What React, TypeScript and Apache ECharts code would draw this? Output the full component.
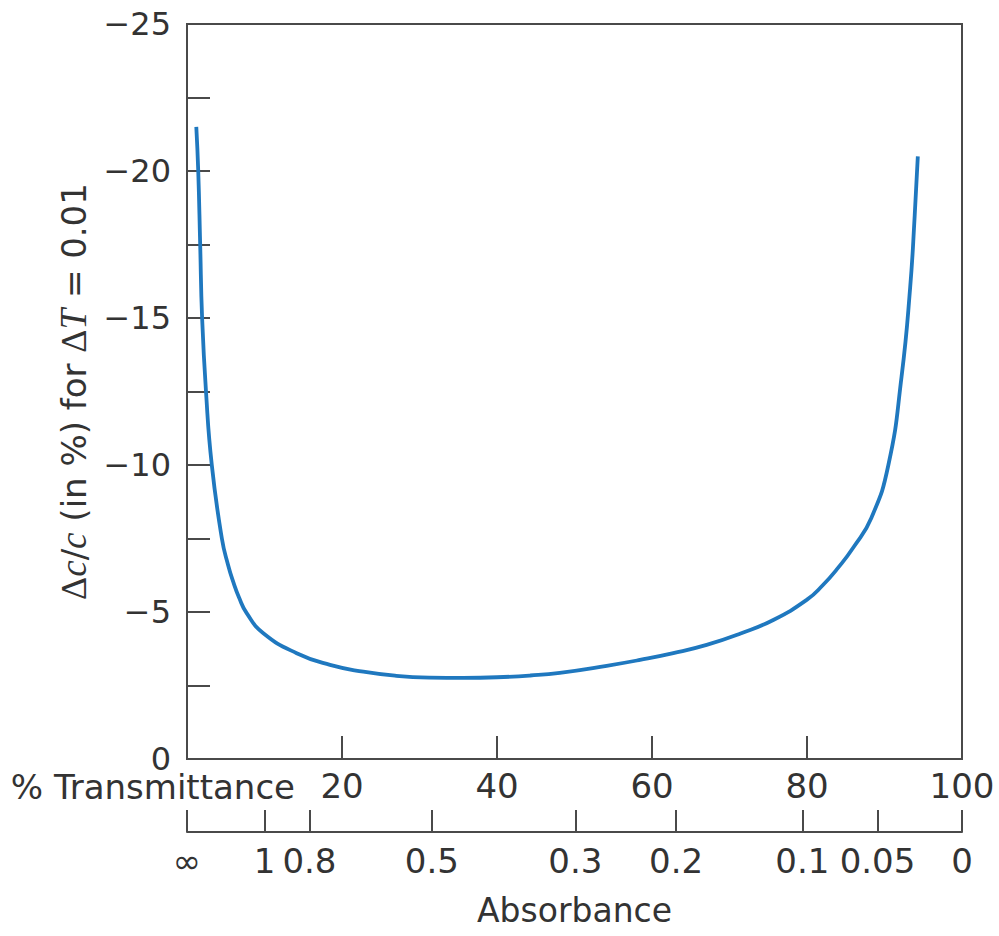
import React, { useEffect, useRef } from "react";
import * as echarts from "echarts";

// % Transmittance (x) and relative concentration error Δc/c in % (y)
const transmittance = [
  1.2, 1.45, 1.7, 1.95, 2.45, 3.2, 4.5, 5.3, 6.0, 6.7, 7.7, 9.85, 14.15, 18.45,
  22.75, 27, 31.35, 35.65, 40, 44.3, 48.1, 54.15, 58.45, 62.75, 67.05, 71.35,
  75.65, 80, 82, 84, 86, 88.3, 90.5, 92.2, 93.3, 93.9, 94.3,
];
const relError = [
  -21.5, -20, -17.5, -15, -12.5, -10, -7.5, -6.6, -6.0, -5.5, -4.96, -4.28, -3.6,
  -3.2, -2.97, -2.83, -2.77, -2.76, -2.78, -2.84, -2.93, -3.17, -3.37, -3.6,
  -3.88, -4.26, -4.73, -5.42, -5.9, -6.5, -7.2, -8.2, -10, -13, -16, -18.5, -20.5,
];

// Secondary (absorbance) scale: tick positions on the % transmittance scale, and their labels
const absorbancePositions = [0, 10, 15.8, 31.6, 50.1, 63.1, 79.4, 89.1, 100];
const absorbanceLabels = ["∞", "1", "0.8", "0.5", "0.3", "0.2", "0.1", "0.05", "0"];

const AXIS_COLOR = "#4a4a4a";
const TEXT_COLOR = "#333333";
const FONT = "DejaVu Sans";

export default function App() {
  const ref = useRef<HTMLDivElement>(null);

  useEffect(() => {
    if (!ref.current) return;
    const chart = echarts.init(ref.current, null, { renderer: "svg" });
    const data = transmittance.map((t, i) => [t, relError[i]]);

    chart.setOption({
      animation: false,
      backgroundColor: "#ffffff",
      grid: {
        left: 187,
        right: 37,
        top: 24,
        bottom: 177,
        containLabel: false,
        outerBoundsMode: "none",
        show: true,
        borderColor: AXIS_COLOR,
        borderWidth: 2,
        backgroundColor: "transparent",
      },
      graphic: [
        {
          type: "text",
          x: 295,
          y: 787,
          style: {
            text: "% Transmittance",
            fontSize: 34,
            lineHeight: 26,
            fontFamily: FONT,
            fill: TEXT_COLOR,
            align: "right",
            verticalAlign: "middle",
          },
        },
      ],
      xAxis: [
        {
          type: "value",
          min: 0,
          max: 100,
          interval: 20,
          position: "bottom",
          axisLine: { show: true, lineStyle: { color: AXIS_COLOR, width: 2 } },
          axisTick: { show: true, inside: true, length: 23, lineStyle: { color: AXIS_COLOR, width: 2 } },
          splitLine: { show: false },
          axisLabel: {
            fontSize: 34,
            fontFamily: FONT,
            color: TEXT_COLOR,
            margin: 10,
            formatter: (v: number) => (v === 0 ? "" : String(v)),
          },
        },
        {
          type: "value",
          min: 0,
          max: 100,
          position: "bottom",
          offset: 73,
          axisLine: { show: true, lineStyle: { color: AXIS_COLOR, width: 2 } },
          axisTick: {
            show: true,
            inside: true,
            length: 22,
            customValues: absorbancePositions,
            lineStyle: { color: AXIS_COLOR, width: 2 },
          },
          splitLine: { show: false },
          axisLabel: {
            fontSize: 34,
            fontFamily: FONT,
            color: TEXT_COLOR,
            margin: 12,
            customValues: absorbancePositions,
            formatter: (v: number) => {
              const i = absorbancePositions.indexOf(v);
              return i >= 0 ? absorbanceLabels[i] : "";
            },
          },
          name: "Absorbance",
          nameLocation: "middle",
          nameGap: 62,
          nameTextStyle: { fontSize: 33, fontFamily: FONT, color: TEXT_COLOR },
        },
      ],
      yAxis: {
        type: "value",
        inverse: true,
        min: -25,
        max: 0,
        interval: 2.5,
        axisLine: { show: true, lineStyle: { color: AXIS_COLOR, width: 2 } },
        axisTick: { show: true, inside: true, length: 23, lineStyle: { color: AXIS_COLOR, width: 2 } },
        splitLine: { show: false },
        axisLabel: {
          fontSize: 32,
          lineHeight: 24,
          fontFamily: FONT,
          color: TEXT_COLOR,
          margin: 16,
          formatter: (v: number) =>
            Math.abs(v % 5) < 1e-9 ? (v === 0 ? "0" : "\u2212" + Math.abs(v)) : "",
        },
        name: "{d|Δ}{i|c}/{i|c} (in %) for {d|Δ}{i|T} = 0.01",
        nameLocation: "middle",
        nameGap: 95,
        nameRotate: 90,
        nameTextStyle: {
          fontSize: 34,
          fontFamily: FONT,
          color: TEXT_COLOR,
          rich: {
            d: { fontSize: 36, fontFamily: "Liberation Serif", color: TEXT_COLOR },
            i: { fontSize: 37, fontFamily: "Liberation Serif", fontStyle: "italic", color: TEXT_COLOR },
          },
        },
      },
      series: [
        {
          type: "line",
          xAxisIndex: 0,
          yAxisIndex: 0,
          data,
          showSymbol: false,
          smooth: 0.5,
          lineStyle: { color: "#1f78bf", width: 3.8 },
        },
      ],
    });

    return () => chart.dispose();
  }, []);

  return (
    <div
      ref={ref}
      style={{ position: "absolute", left: 0, top: 0, width: 999, height: 936 }}
    />
  );
}
